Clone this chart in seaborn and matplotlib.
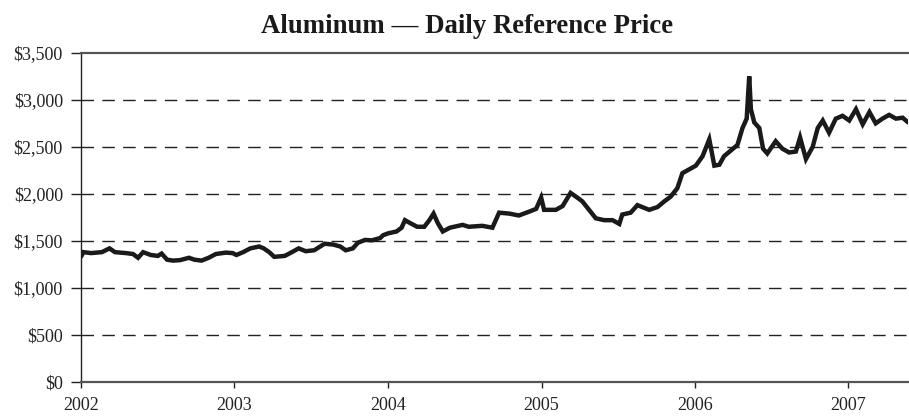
import pandas as pd
import seaborn as sns
import matplotlib.pyplot as plt
import matplotlib.ticker as ticker
import matplotlib.dates as mdates

# values (roughly twice a month)
dates = [
    '2002-01-01', '2002-01-07', '2002-01-25', '2002-02-20', '2002-03-10', '2002-03-23',
    '2002-04-18', '2002-05-05', '2002-05-17', '2002-05-29', '2002-06-16', '2002-07-03',
    '2002-07-12', '2002-07-25', '2002-08-08', '2002-08-25', '2002-09-15', '2002-09-28',
    '2002-10-15', '2002-11-01', '2002-11-18', '2002-12-12', '2002-12-28',
    '2003-01-06', '2003-01-22', '2003-02-08', '2003-03-01', '2003-03-12', '2003-03-25',
    '2003-04-06', '2003-05-01', '2003-05-18', '2003-06-03', '2003-06-20', '2003-07-10',
    '2003-08-04', '2003-08-25', '2003-09-10', '2003-09-23', '2003-10-10', '2003-10-22',
    '2003-11-08', '2003-11-24', '2003-12-14', '2003-12-21',
    '2004-01-02', '2004-01-22', '2004-02-03', '2004-02-11', '2004-02-23', '2004-03-11',
    '2004-03-28', '2004-04-09', '2004-04-19', '2004-04-29', '2004-05-11', '2004-05-28',
    '2004-06-17', '2004-06-27', '2004-07-12', '2004-08-13', '2004-09-06', '2004-09-22',
    '2004-10-16', '2004-11-08', '2004-12-02', '2004-12-19', '2004-12-31',
    '2005-01-07', '2005-02-04', '2005-02-20', '2005-03-11', '2005-03-27', '2005-04-08',
    '2005-04-24', '2005-05-10', '2005-05-30', '2005-06-19', '2005-07-05', '2005-07-12',
    '2005-08-01', '2005-08-17', '2005-09-14', '2005-10-04', '2005-10-20', '2005-11-04',
    '2005-11-20', '2005-12-02', '2005-12-18',
    '2006-01-03', '2006-01-19', '2006-02-04', '2006-02-16', '2006-02-28', '2006-03-11',
    '2006-03-27', '2006-04-12', '2006-04-24', '2006-05-04', '2006-05-10', '2006-05-14',
    '2006-05-22', '2006-06-03', '2006-06-12', '2006-06-22', '2006-07-12', '2006-07-28',
    '2006-08-13', '2006-08-29', '2006-09-08', '2006-09-22', '2006-10-08', '2006-10-20',
    '2006-11-01', '2006-11-16', '2006-12-02', '2006-12-18',
    '2007-01-03', '2007-01-19', '2007-02-04', '2007-02-20', '2007-03-07', '2007-03-23',
    '2007-04-08', '2007-04-24', '2007-05-10', '2007-05-23',
]
prices = [
    1330, 1380, 1370, 1380, 1420, 1380,
    1370, 1360, 1320, 1380, 1350, 1340,
    1365, 1300, 1290, 1295, 1320, 1300,
    1290, 1320, 1360, 1375, 1370,
    1350, 1380, 1420, 1440, 1420, 1380,
    1330, 1340, 1380, 1420, 1390, 1400,
    1470, 1460, 1440, 1400, 1420, 1480,
    1510, 1505, 1530, 1560,
    1580, 1600, 1640, 1720, 1690, 1650,
    1650, 1720, 1790, 1690, 1600, 1640,
    1660, 1670, 1650, 1660, 1640, 1800,
    1790, 1770, 1810, 1840, 1960,
    1830, 1830, 1870, 2010, 1960, 1920,
    1830, 1740, 1720, 1720, 1680, 1780,
    1800, 1880, 1830, 1860, 1920, 1970,
    2060, 2220, 2260,
    2300, 2400, 2580, 2300, 2310, 2400,
    2460, 2520, 2700, 2800, 3250, 2900,
    2760, 2700, 2480, 2430, 2560, 2480,
    2440, 2450, 2600, 2370, 2500, 2700,
    2780, 2650, 2800, 2830,
    2780, 2900, 2740, 2870, 2750, 2800,
    2840, 2800, 2810, 2760,
]
year_ticks = ['2002', '2003', '2004', '2005', '2006', '2007']

df = pd.DataFrame({'Date': pd.to_datetime(dates), 'Price': prices})

sns.set_style("white")
plt.rcParams['font.family'] = ['Liberation Serif', 'DejaVu Serif']

fig, ax = plt.subplots(figsize=(9.09, 4.16), dpi=100)
fig.subplots_adjust(left=0.089, right=0.999, bottom=0.082, top=0.873)

sns.lineplot(data=df, x='Date', y='Price', ax=ax, color='#1a1a1a',
             linewidth=3.2, solid_joinstyle='miter')

ax.set_xlim(pd.Timestamp('2002-01-01'), pd.Timestamp('2007-05-23'))
ax.set_ylim(0, 3500)
ax.set_xticks(pd.to_datetime([y + '-01-01' for y in year_ticks]))
ax.xaxis.set_major_formatter(mdates.DateFormatter('%Y'))
ax.yaxis.set_major_locator(ticker.MultipleLocator(500))
ax.yaxis.set_major_formatter(ticker.FuncFormatter(lambda v, p: f'${v:,.0f}'))

# dashed reference lines between the frame edges
for v in range(500, 3500, 500):
    ax.axhline(v, color='#222222', linewidth=1.0, dashes=(9, 6), zorder=0)

ax.set_xlabel(None)
ax.set_ylabel(None)
ax.tick_params(axis='y', direction='out', length=7, width=1, labelsize=13, pad=6, colors='#222222')
ax.tick_params(axis='x', direction='out', length=4, width=1, labelsize=13, pad=7, colors='#222222')
ax.tick_params(left=True, bottom=True)

ax.spines['right'].set_visible(False)
ax.spines['left'].set_color('#222222')
ax.spines['left'].set_linewidth(1.0)
for side in ['top', 'bottom']:
    ax.spines[side].set_color('#555555')
    ax.spines[side].set_linewidth(1.6)

fig.text(0.514, 0.921, 'Aluminum \u2014 Daily Reference Price', fontsize=19.3,
         fontweight='bold', color='#1a1a1a', ha='center', va='baseline')

plt.savefig('out.png', dpi=100)
